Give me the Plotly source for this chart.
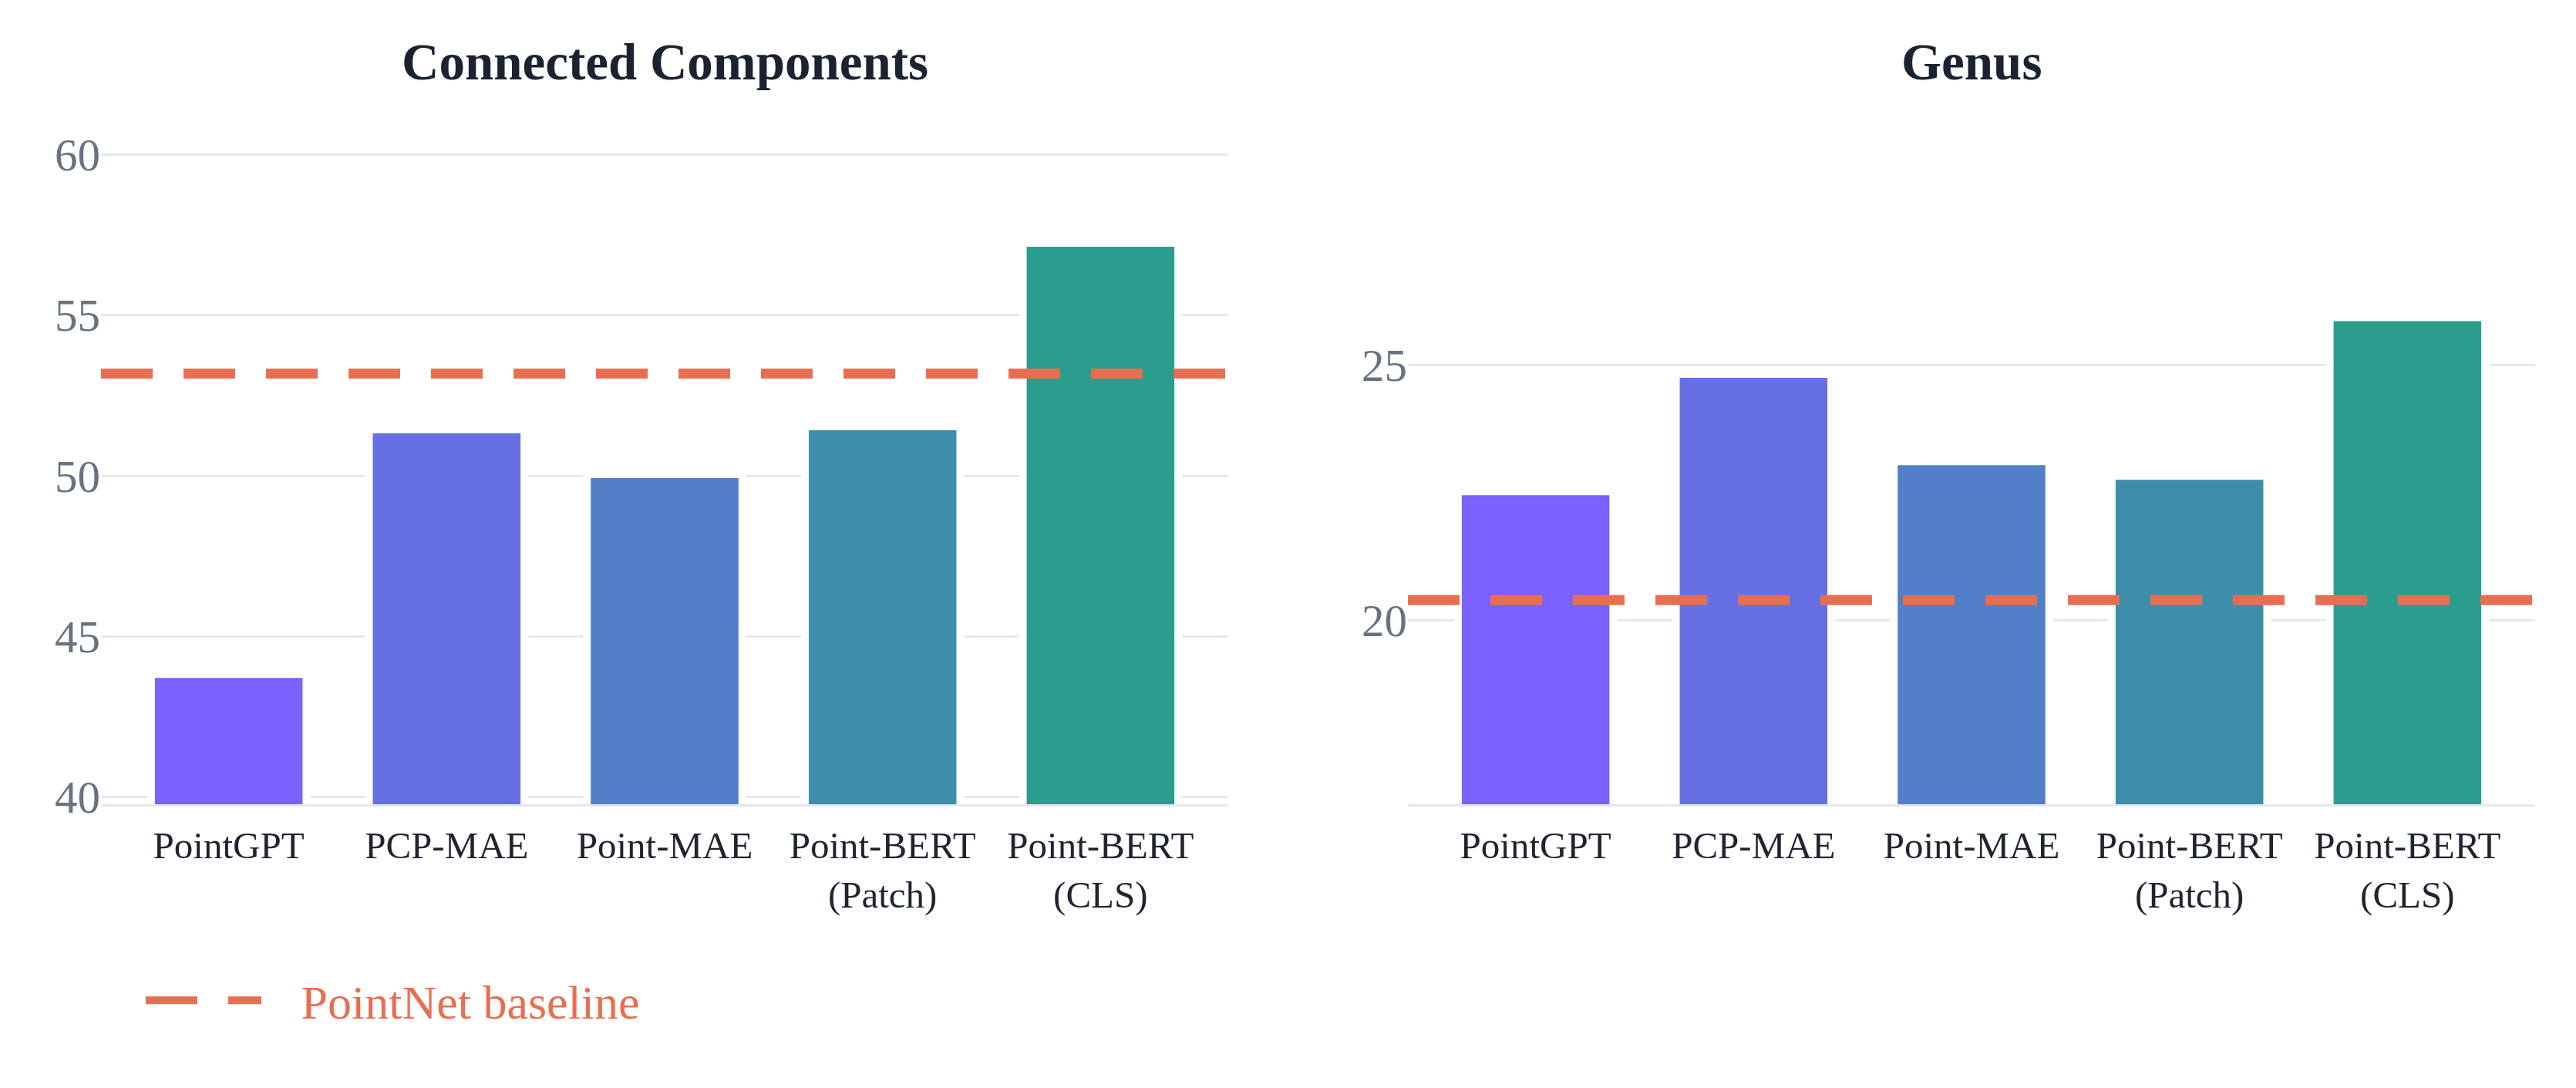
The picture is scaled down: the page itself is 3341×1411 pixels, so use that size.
import plotly.graph_objects as go
from plotly.subplots import make_subplots

# ---- data ----
models = ["PointGPT", "PCP-MAE", "Point-MAE", "Point-BERT<br>(Patch)", "Point-BERT<br>(CLS)"]
cc_values = [43.83, 51.44, 50.05, 51.54, 57.25]
genus_values = [22.53, 24.83, 23.12, 22.83, 25.94]
cc_baseline = 53.18
genus_baseline = 20.40
panel_titles = ["Connected Components", "Genus"]
baseline_name = "PointNet baseline"
bar_colors = ["#7B61FF", "#6770E3", "#527FC7", "#3E8EAB", "#2A9D8F"]
baseline_color = "#E76F51"

W, H = 3341, 1411
ML, MR, MT, MB = 131, 53, 150, 368
FONT = "Liberation Serif"
GRID = "#E5E8EF"

fig = make_subplots(rows=1, cols=2, horizontal_spacing=0.0738)

for col, vals in [(1, cc_values), (2, genus_values)]:
    fig.add_trace(go.Bar(x=models, y=vals, marker=dict(color=bar_colors, line=dict(color="white", width=10)),
                         showlegend=False, hoverinfo="y"), row=1, col=col)

for col, b in [(1, cc_baseline), (2, genus_baseline)]:
    fig.add_hline(y=b, line=dict(color=baseline_color, width=13, dash="67px,40px"), row=1, col=col)

# legend entry for baseline
fig.add_trace(go.Scatter(x=[None], y=[None], mode="lines", name="\u00a0\u00a0\u00a0" + baseline_name,
                         line=dict(color=baseline_color, width=13, dash="67px,40px")), row=1, col=1)

fig.update_xaxes(range=[-0.586, 4.586], showgrid=False, showline=True, linecolor=GRID, linewidth=3,
                 ticks="", ticklabelstandoff=8,
                 tickfont=dict(family=FONT, size=49, color="#1F2430"), zeroline=False)
fig.update_yaxes(showgrid=True, gridcolor=GRID, gridwidth=3, zeroline=False, showline=False, ticks="",
                 tickfont=dict(family=FONT, size=59, color="#67737F"))
fig.update_yaxes(range=[39.78, 61.21], dtick=5, row=1, col=1)
fig.update_yaxes(range=[16.40, 29.89], dtick=5, row=1, col=2)

pw = W - ML - MR
ph = H - MT - MB
d1 = fig.layout.xaxis.domain
d2 = fig.layout.xaxis2.domain
for t, d in zip(panel_titles, [d1, d2]):
    fig.add_annotation(text="<b>" + t + "</b>", xref="paper", yref="paper", x=(d[0] + d[1]) / 2,
                       y=1 + (MT - 80) / ph, xanchor="center", yanchor="middle", showarrow=False,
                       font=dict(family=FONT, size=67, color="#1B2230"))

fig.update_layout(
    width=W, height=H, margin=dict(l=ML, r=MR, t=MT, b=MB),
    paper_bgcolor="white", plot_bgcolor="white", bargap=0.287,
    legend=dict(orientation="h", x=53 / pw, xanchor="left", y=(1043 - 1297.5) / ph, yanchor="middle",
                itemwidth=150, font=dict(family=FONT, size=62, color=baseline_color)),
)
fig.write_html("out.html")
